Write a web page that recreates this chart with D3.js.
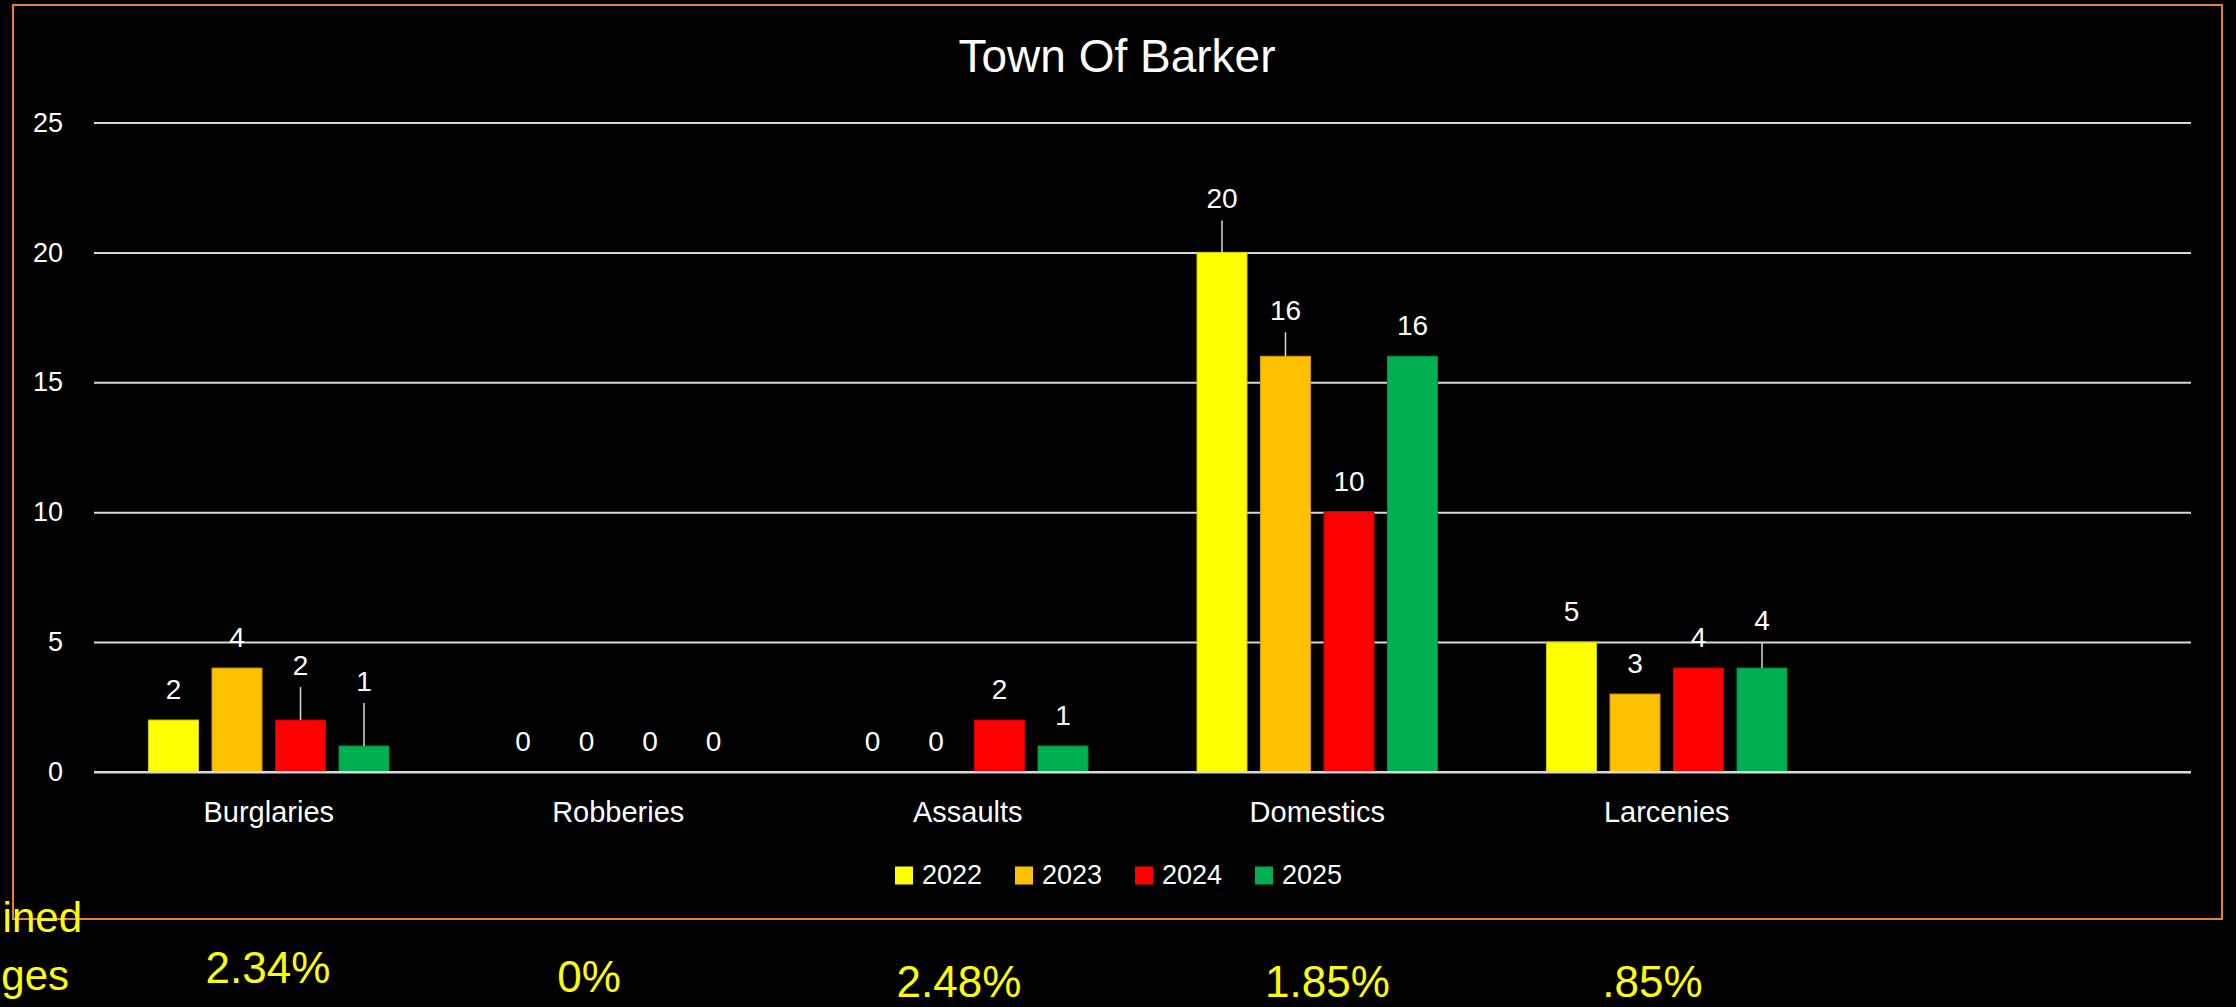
<!DOCTYPE html>
<html>
<head>
<meta charset="utf-8">
<script src="https://cdn.jsdelivr.net/npm/d3@7"></script>
<style>
  html, body { margin: 0; padding: 0; background: #000; }
  svg { display: block; }
  text { font-family: "Liberation Sans", Arial, sans-serif; }
</style>
</head>
<body>
<svg id="chart" width="2236" height="1007"></svg>
<script>
// ---- data ----
const title = "Town Of Barker";
const categories = ["Burglaries", "Robberies", "Assaults", "Domestics", "Larcenies", ""];
const seriesNames = ["2022", "2023", "2024", "2025"];
const values2022 = [2, 0, 0, 20, 5, null];
const values2023 = [4, 0, 0, 16, 3, null];
const values2024 = [2, 0, 2, 10, 4, null];
const values2025 = [1, 0, 1, 16, 4, null];
const yTicks = [0, 5, 10, 15, 20, 25];
const sideNotes = ["ined", "ges"];
const averages = ["2.34%", "0%", "2.48%", "1.85%", ".85%"];

// ---- styling / layout ----
const colors = ["#FFFF00", "#FFC000", "#FF0000", "#00B050"];
// extra lift (px) of data labels that were dragged away (with leader lines)
const labelLift = [
  [0, 0, 24, 34],
  [0, 0, 0, 0],
  [0, 0, 0, 0],
  [23, 15, 0, 0],
  [0, 0, 0, 17],
  [0, 0, 0, 0]
];
const averagesPos = [[268, 983], [589, 991.5], [959, 997], [1327.5, 997], [1652.5, 997]];

(function () {
const svg = d3.select("#chart");
svg.append("rect").attr("width", 2236).attr("height", 1007).attr("fill", "#000");

// frame
svg.append("rect")
  .attr("x", 13).attr("y", 5).attr("width", 2209).attr("height", 914)
  .attr("fill", "none").attr("stroke", "#ED7D31").attr("stroke-width", 2);

const pLeft = 94, pRight = 2191, pTop = 122.5, pBottom = 772;

const y = d3.scaleLinear().domain([0, 25]).range([pBottom, pTop]);
const x0 = d3.scaleBand().domain(categories.map((c, i) => i))
  .range([pLeft, pRight]).paddingInner(0.312).paddingOuter(0.156);
const x1 = d3.scaleBand().domain(seriesNames)
  .range([0, x0.bandwidth()]).paddingInner(0.213).paddingOuter(0);

// title
svg.append("text").attr("x", 1117).attr("y", 71.5)
  .attr("text-anchor", "middle").attr("fill", "#fff")
  .attr("font-size", 46).text(title);

// y axis / gridlines
const yAxis = svg.append("g").attr("transform", `translate(${pLeft},0)`)
  .call(d3.axisLeft(y).tickValues(yTicks).tickSize(-(pRight - pLeft)).tickPadding(31));
yAxis.select(".domain").remove();
yAxis.selectAll(".tick line").attr("stroke", "#D9D9D9").attr("stroke-width", 2);
yAxis.selectAll(".tick text").attr("fill", "#fff").attr("font-size", 27)
  .attr("font-family", "Liberation Sans, Arial, sans-serif");

// x labels
const xAxis = svg.append("g").attr("transform", `translate(0,${pBottom})`)
  .call(d3.axisBottom(x0).tickSize(0).tickPadding(0).tickFormat(i => categories[i]));
xAxis.select(".domain").remove();
xAxis.selectAll(".tick text").attr("fill", "#fff").attr("font-size", 29)
  .attr("font-family", "Liberation Sans, Arial, sans-serif")
  .attr("dy", null).attr("y", 49.5);

// bars
const allSeries = [values2022, values2023, values2024, values2025];
const rows = [];
categories.forEach((c, ci) => {
  allSeries.forEach((vals, si) => {
    if (vals[ci] !== null && vals[ci] !== undefined) {
      rows.push({ ci, si, v: vals[ci], lift: labelLift[ci][si] });
    }
  });
});

const g = svg.append("g");
g.selectAll("rect.bar").data(rows.filter(d => d.v > 0)).join("rect")
  .attr("class", "bar")
  .attr("x", d => x0(d.ci) + x1(seriesNames[d.si]))
  .attr("y", d => y(d.v))
  .attr("width", x1.bandwidth())
  .attr("height", d => y(0) - y(d.v))
  .attr("fill", d => colors[d.si])
  .attr("stroke", d => d3.color(colors[d.si]).darker(0.6))
  .attr("stroke-width", 1);

// redraw zero gridline on top of bar bottoms
svg.append("line").attr("x1", pLeft).attr("x2", pRight)
  .attr("y1", y(0)).attr("y2", y(0)).attr("stroke", "#D9D9D9").attr("stroke-width", 2);

// leader lines
g.selectAll("line.leader").data(rows.filter(d => d.lift > 0)).join("line")
  .attr("class", "leader")
  .attr("x1", d => x0(d.ci) + x1(seriesNames[d.si]) + x1.bandwidth() / 2)
  .attr("x2", d => x0(d.ci) + x1(seriesNames[d.si]) + x1.bandwidth() / 2)
  .attr("y1", d => y(d.v))
  .attr("y2", d => y(d.v) - 21 - d.lift + 12)
  .attr("stroke", "#D9D9D9").attr("stroke-width", 1.5);

// data labels
g.selectAll("text.lbl").data(rows).join("text")
  .attr("class", "lbl")
  .attr("x", d => x0(d.ci) + x1(seriesNames[d.si]) + x1.bandwidth() / 2)
  .attr("y", d => y(d.v) - 21 - d.lift)
  .attr("text-anchor", "middle").attr("fill", "#fff").attr("font-size", 28)
  .text(d => d.v);

// legend
const legendStart = 895, legendStep = 120;
const lg = svg.append("g");
seriesNames.forEach((s, i) => {
  const lx = legendStart + i * legendStep;
  lg.append("rect").attr("x", lx).attr("y", 866.5).attr("width", 18).attr("height", 18)
    .attr("fill", colors[i]);
  lg.append("text").attr("x", lx + 27).attr("y", 884).attr("fill", "#fff")
    .attr("font-size", 27).text(s);
});

// side notes (clipped at the left edge)
svg.append("text").attr("x", 82).attr("y", 932).attr("text-anchor", "end")
  .attr("fill", "#FFFF00").attr("font-size", 42).text(sideNotes[0]);
svg.append("text").attr("x", 69).attr("y", 990).attr("text-anchor", "end")
  .attr("fill", "#FFFF00").attr("font-size", 42).text(sideNotes[1]);

// averages
svg.selectAll("text.avg").data(averages).join("text")
  .attr("class", "avg")
  .attr("x", (d, i) => averagesPos[i][0])
  .attr("y", (d, i) => averagesPos[i][1])
  .attr("text-anchor", "middle").attr("fill", "#FFFF00").attr("font-size", 44)
  .text(d => d);
})();
</script>
</body>
</html>
